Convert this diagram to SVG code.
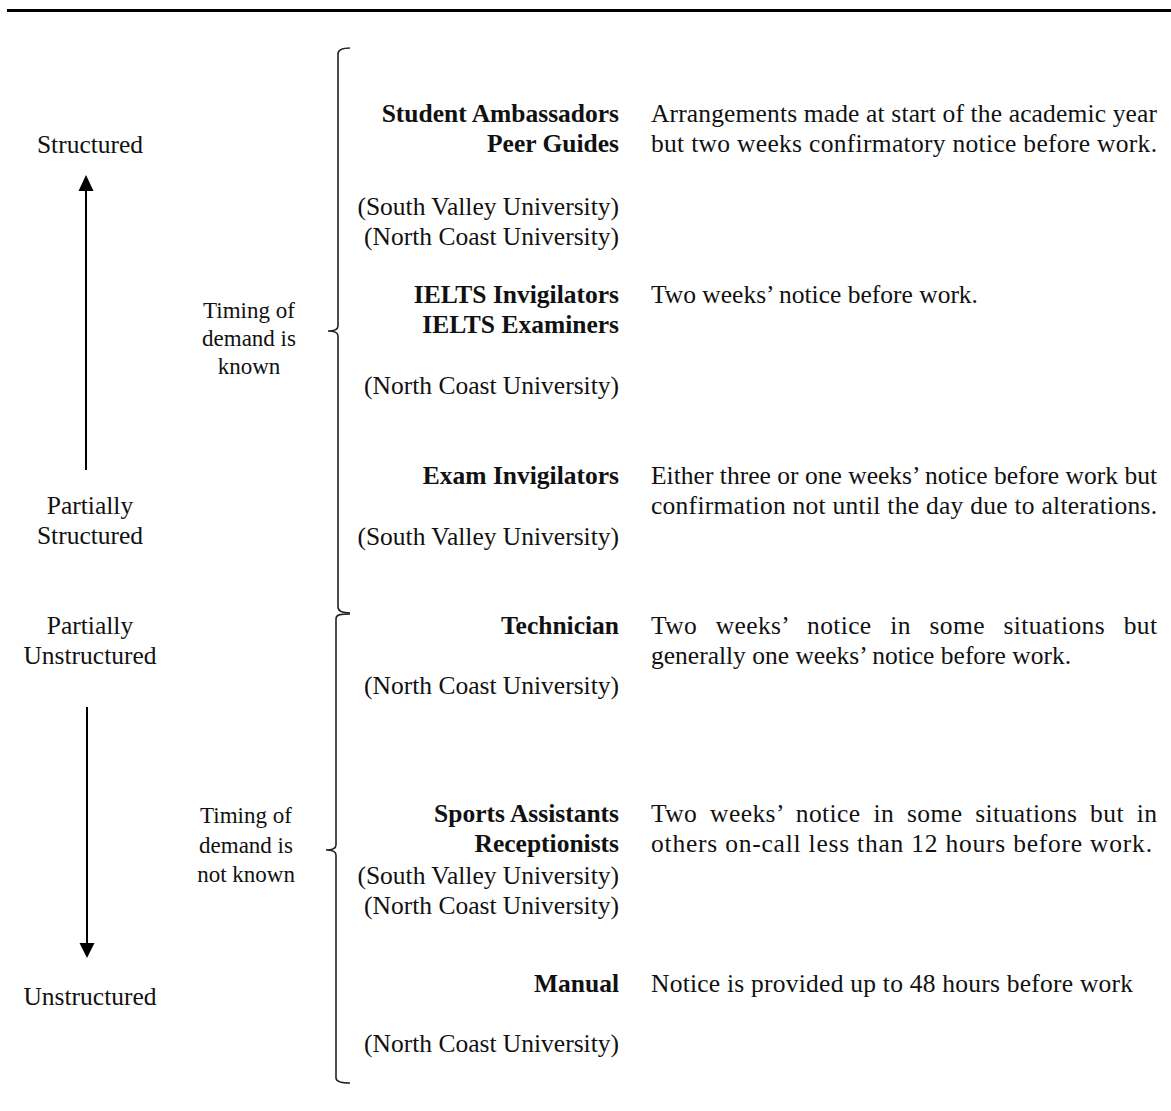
<svg xmlns="http://www.w3.org/2000/svg" width="1171" height="1111" viewBox="0 0 1171 1111">
<style>
text{font-family:"Liberation Serif","Times New Roman",serif;font-size:25.5px;fill:#111}
.b{font-weight:bold}
.r{text-anchor:end}
.c{text-anchor:middle}
.s{font-size:23px}
.ln{stroke:#000;stroke-width:2;fill:none}
.br{stroke:#222;stroke-width:1.6;fill:none}
</style>
<rect width="1171" height="1111" fill="#fff"/>
<line x1="7" y1="10.5" x2="1171" y2="10.5" stroke="#000" stroke-width="3"/>

<g id="connectors">
<path class="br" d="M350,48 C343,48 338,49 338,54 V326 C338,330 333,331 328,331 C333,331 338,332 338,336 V607 C338,612 343,613 350,613"/>
<path class="br" d="M350,614 C342,614 336,614 336,619 V845 C336,849 331,850 326,850 C331,850 336,851 336,855 V1078 C336,1082 342,1083 350,1083"/>
<line class="ln" x1="86" y1="470" x2="86" y2="191"/>
<polygon points="86,175 78.5,191 93.5,191" fill="#000"/>
<line class="ln" x1="87" y1="707" x2="87" y2="944"/>
<polygon points="79.5,943 94.5,943 87,958" fill="#000"/>
</g>

<g id="scale">
<text class="c" x="90" y="153">Structured</text>
<text class="c" x="90" y="514">Partially</text>
<text class="c" x="90" y="544">Structured</text>
<text class="c" x="90" y="634">Partially</text>
<text class="c" x="90" y="664">Unstructured</text>
<text class="c" x="90" y="1005">Unstructured</text>
</g>

<g id="known">
<text class="c s" x="249" y="318">Timing of</text>
<text class="c s" x="249" y="346">demand is</text>
<text class="c s" x="249" y="374">known</text>
</g>
<g id="notknown">
<text class="c s" x="246" y="823">Timing of</text>
<text class="c s" x="246" y="853">demand is</text>
<text class="c s" x="246" y="882">not known</text>
</g>

<g id="ambassadors">
<text class="b r" x="619" y="122">Student Ambassadors</text>
<text class="b r" x="619" y="152">Peer Guides</text>
<text class="r" x="619" y="215">(South Valley University)</text>
<text class="r" x="619" y="245">(North Coast University)</text>
<text x="651" y="122" textLength="506" lengthAdjust="spacing">Arrangements made at start of the academic year</text>
<text x="651" y="152" textLength="506" lengthAdjust="spacing">but two weeks confirmatory notice before work.</text>
</g>

<g id="ielts">
<text class="b r" x="619" y="303">IELTS Invigilators</text>
<text class="b r" x="619" y="333">IELTS Examiners</text>
<text class="r" x="619" y="394">(North Coast University)</text>
<text x="651" y="303">Two weeks’ notice before work.</text>
</g>

<g id="exam">
<text class="b r" x="619" y="484">Exam Invigilators</text>
<text class="r" x="619" y="545">(South Valley University)</text>
<text x="651" y="484" textLength="506" lengthAdjust="spacing">Either three or one weeks’ notice before work but</text>
<text x="651" y="514" textLength="506" lengthAdjust="spacing">confirmation not until the day due to alterations.</text>
</g>

<g id="technician">
<text class="b r" x="619" y="634">Technician</text>
<text class="r" x="619" y="694">(North Coast University)</text>
<text x="651" y="634" word-spacing="12" textLength="506" lengthAdjust="spacing">Two weeks’ notice in some situations but</text>
<text x="651" y="664">generally one weeks’ notice before work.</text>
</g>

<g id="sports">
<text class="b r" x="619" y="822">Sports Assistants</text>
<text class="b r" x="619" y="852">Receptionists</text>
<text class="r" x="619" y="884">(South Valley University)</text>
<text class="r" x="619" y="914">(North Coast University)</text>
<text x="651" y="822" word-spacing="6" textLength="506" lengthAdjust="spacing">Two weeks’ notice in some situations but in</text>
<text x="651" y="852" textLength="501" lengthAdjust="spacing">others on-call less than 12 hours before work.</text>
</g>

<g id="manual">
<text class="b r" x="619" y="992">Manual</text>
<text class="r" x="619" y="1052">(North Coast University)</text>
<text x="651" y="992" textLength="482" lengthAdjust="spacing">Notice is provided up to 48 hours before work</text>
</g>
</svg>
